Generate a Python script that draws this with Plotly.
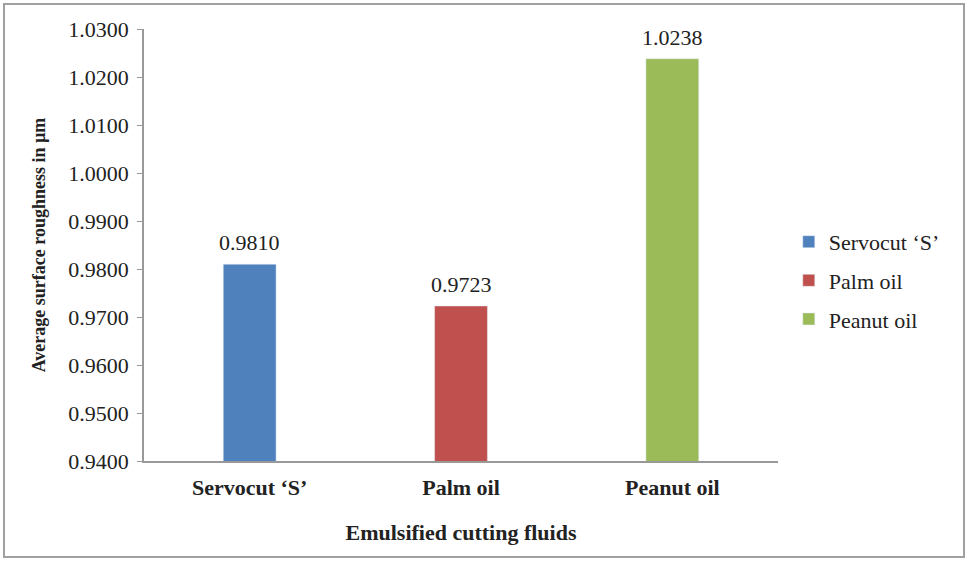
import plotly.graph_objects as go

categories = ["Servocut ‘S’", "Palm oil", "Peanut oil"]
values = [0.9810, 0.9723, 1.0238]
colors = ["#4F81BD", "#C0504D", "#9BBB59"]
y_ticks = [0.94, 0.95, 0.96, 0.97, 0.98, 0.99, 1.00, 1.01, 1.02, 1.03]

font_family = "Liberation Serif, Times New Roman, serif"

fig = go.Figure()
for i, (cat, val, col) in enumerate(zip(categories, values, colors)):
    fig.add_trace(go.Bar(
        x=[cat], y=[val], name=cat, marker_color=col, width=0.25,
        legendgroup=f"g{i}",
    ))
    fig.add_annotation(
        x=cat, y=val, text=f"{val:.4f}", showarrow=False,
        yanchor="bottom", yshift=7,
        font=dict(size=22, color="#222", family=font_family),
    )

fig.update_layout(
    width=968, height=562,
    margin=dict(l=144, r=190, t=29, b=101),
    paper_bgcolor="white", plot_bgcolor="white",
    barmode="overlay",
    font=dict(family=font_family, size=22, color="#222"),
    legend=dict(x=1.017, y=0.418, xanchor="left", yanchor="middle",
                font=dict(size=22, family=font_family), itemwidth=30,
                tracegroupgap=7, traceorder="grouped"),
    showlegend=True,
    xaxis=dict(
        categoryorder="array", categoryarray=categories,
        showline=True, linecolor="#999", linewidth=2, ticks="",
        ticklabelstandoff=6,
        tickfont=dict(size=22, family=font_family, weight="bold"),
        title=dict(text="<b>Emulsified cutting fluids</b>", font=dict(size=22, family=font_family), standoff=25),
        showgrid=False,
    ),
    yaxis=dict(
        range=[0.94, 1.03], tickvals=y_ticks, tickformat=".4f",
        showline=True, linecolor="#999", linewidth=1.5,
        ticks="outside", ticklen=5, tickcolor="#999",
        ticklabelstandoff=4,
        tickfont=dict(size=22, family=font_family),
        title=dict(text="<b>Average surface roughness in µm</b>", font=dict(size=18, family=font_family), standoff=18),
        showgrid=False, zeroline=False,
    ),
    shapes=[dict(type="rect", xref="paper", yref="paper",
                 x0=-0.2208, x1=1.2934, y0=-0.2222, y1=1.0579,
                 line=dict(color="#A0A0A0", width=2), fillcolor="rgba(0,0,0,0)", layer="below")],
)

fig.write_html("out.html", config={"displayModeBar": False},
               post_script="document.body.style.margin='0';")
